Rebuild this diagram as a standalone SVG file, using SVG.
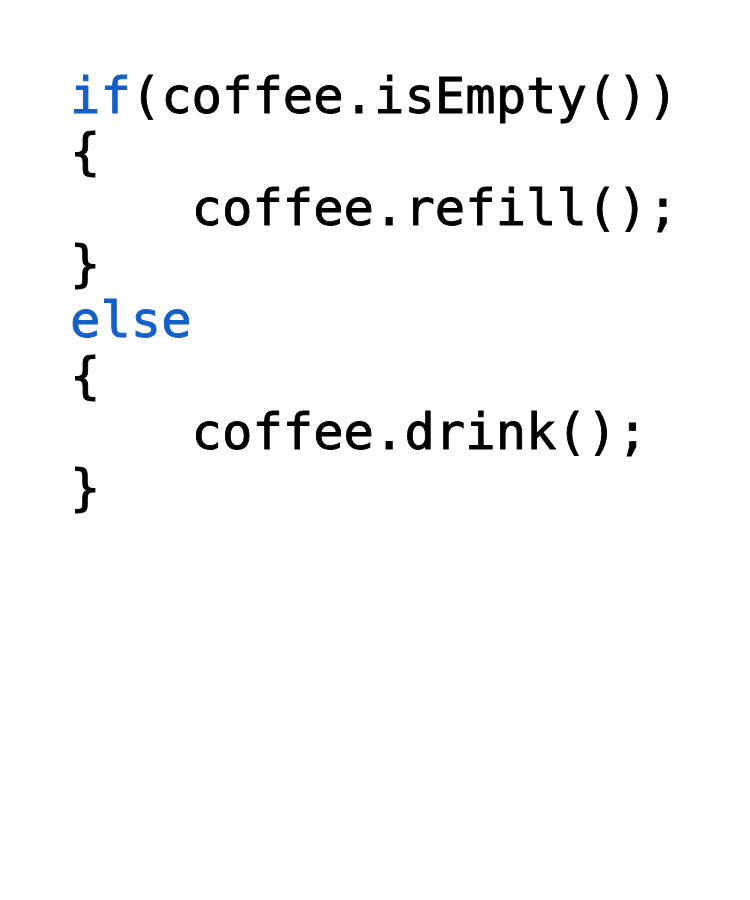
<svg xmlns="http://www.w3.org/2000/svg" width="750" height="900" viewBox="0 0 750 900">
<style>
.code{font-family:"DejaVu Sans Mono","Liberation Mono",monospace;font-size:50.5px;fill:#000;stroke:#000;stroke-width:0.9px}
.kw{fill:#1560c8;stroke:#1560c8}
</style>
<rect width="750" height="900" fill="#fff"/>
<g id="code">
<text class="code" x="70" y="113"><tspan class="kw">if</tspan>(coffee.isEmpty())</text>
<text class="code" x="70" y="169">{</text>
<text class="code" x="191.6" y="225">coffee.refill();</text>
<text class="code" x="70" y="281">}</text>
<text class="code kw" x="70" y="337">else</text>
<text class="code" x="70" y="393">{</text>
<text class="code" x="191.6" y="449">coffee.drink();</text>
<text class="code" x="70" y="505">}</text>
</g>
</svg>
